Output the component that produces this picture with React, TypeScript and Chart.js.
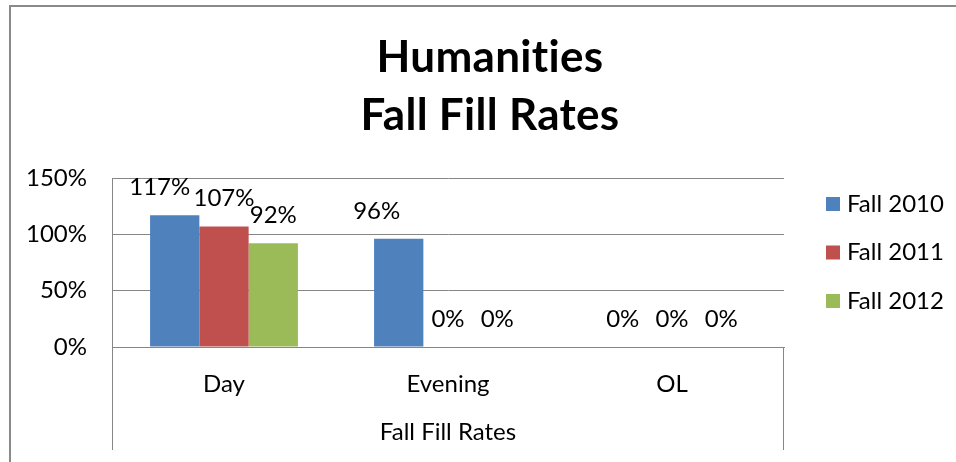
import { useEffect, useRef } from 'react';
import { Chart, registerables } from 'chart.js';

Chart.register(...registerables);

const categories = ['Day', 'Evening', 'OL'];
const seriesNames = ['Fall 2010', 'Fall 2011', 'Fall 2012'];
const fall2010 = [117, 96, 0];
const fall2011 = [107, 0, 0];
const fall2012 = [92, 0, 0];
const yTickValues = [0, 50, 100, 150];
const titleLines = ['Humanities', 'Fall Fill Rates'];
const xAxisTitle = 'Fall Fill Rates';

const COLORS = ['#4F81BD', '#C0504D', '#9BBB59'];
const GRID = '#868686';
const FONT = 'Lato';
const TEXT = '#000000';
const FS = 24;
// horizontal nudges of data labels (label layout style, as in the original)
const LABEL_NUDGE: number[][] = [
  [-15, -22, 0],
  [0, 0, 0],
  [0, 0, 0],
];

const decorPlugin = {
  id: 'decor',
  beforeDraw(chart: any) {
    const ctx = chart.ctx;
    ctx.save();
    ctx.strokeStyle = '#8a8a8a';
    ctx.lineWidth = 2;
    ctx.beginPath();
    ctx.moveTo(10, chart.height);
    ctx.lineTo(10, 6);
    ctx.lineTo(chart.width, 6);
    ctx.stroke();
    ctx.restore();
  },
  afterDraw(chart: any) {
    const { ctx, chartArea } = chart;
    ctx.save();
    // category axis box extensions
    ctx.strokeStyle = GRID;
    ctx.lineWidth = 1;
    ctx.beginPath();
    const l = Math.round(chartArea.left) + 0.5;
    const r = Math.round(chartArea.right) - 0.5;
    ctx.moveTo(l, chartArea.bottom);
    ctx.lineTo(l, chartArea.bottom + 103);
    ctx.moveTo(r, chartArea.bottom);
    ctx.lineTo(r, chartArea.bottom + 103);
    ctx.stroke();

    // title (no ligatures, like the original)
    ctx.fillStyle = TEXT;
    ctx.font = `bold 44px ${FONT}`;
    ctx.textAlign = 'center';
    ctx.textBaseline = 'middle';
    try {
      (ctx as any).textRendering = 'optimizeSpeed';
      (ctx as any).letterSpacing = '0.3px';
    } catch (e) {}
    titleLines.forEach((line, i) => {
      ctx.fillText(line, 490, 58 + i * 58);
    });
    try {
      (ctx as any).letterSpacing = '0px';
    } catch (e) {}

    // legend
    ctx.font = `${FS}px ${FONT}`;
    ctx.textAlign = 'left';
    chart.data.datasets.forEach((ds: any, i: number) => {
      const cy = 204 + i * 48.5;
      ctx.fillStyle = ds.backgroundColor;
      ctx.fillRect(chartArea.right + 42, cy - 7, 14, 14);
      ctx.fillStyle = TEXT;
      ctx.fillText(ds.label, chartArea.right + 63, cy);
    });

    // data labels
    ctx.textAlign = 'center';
    chart.data.datasets.forEach((ds: any, i: number) => {
      const meta = chart.getDatasetMeta(i);
      meta.data.forEach((bar: any, j: number) => {
        const dx = (LABEL_NUDGE[i] && LABEL_NUDGE[i][j]) || 0;
        ctx.fillText(`${ds.data[j]}%`, bar.x + dx, bar.y - 28);
      });
    });
    ctx.restore();
  },
};

export default function App() {
  const ref = useRef<HTMLCanvasElement | null>(null);

  useEffect(() => {
    document.body.style.margin = '0';
    const canvas = ref.current;
    if (!canvas) return;
    const chart = new Chart(canvas, {
      type: 'bar',
      data: {
        labels: categories,
        datasets: [fall2010, fall2011, fall2012].map((d, i) => ({
          label: seriesNames[i],
          data: d,
          backgroundColor: COLORS[i],
          borderWidth: 0,
          categoryPercentage: 0.66,
          barPercentage: 1,
        })),
      },
      options: {
        responsive: false,
        animation: false,
        devicePixelRatio: 1,
        layout: { padding: { top: 178, right: 172, left: 0, bottom: 0 } },
        plugins: {
          legend: { display: false },
          title: { display: false },
          tooltip: { enabled: false },
        },
        scales: {
          x: {
            grid: { display: false },
            border: { display: true, color: GRID, width: 1 },
            ticks: {
              color: TEXT,
              font: { family: FONT, size: FS },
              padding: 15,
              maxRotation: 0,
            },
            title: {
              display: true,
              text: xAxisTitle,
              color: TEXT,
              font: { family: FONT, size: FS },
              padding: { top: 0, bottom: 15 },
            },
            afterFit: (scale: any) => {
              scale.height = 115;
            },
          },
          y: {
            min: 0,
            max: 150,
            afterBuildTicks: (scale: any) => {
              scale.ticks = yTickValues.map((v) => ({ value: v }));
            },
            grid: { color: GRID, lineWidth: 1, drawTicks: false },
            border: { display: true, color: GRID, width: 1 },
            ticks: {
              color: TEXT,
              font: { family: FONT, size: FS },
              padding: 25,
              callback: (v: any) => `${v}%`,
            },
            afterFit: (scale: any) => {
              scale.width = 112;
            },
          },
        },
      },
      plugins: [decorPlugin],
    });
    return () => chart.destroy();
  }, []);

  return (
    <div style={{ width: 956, height: 462 }}>
      <canvas ref={ref} width={956} height={462} style={{ display: 'block' }} />
    </div>
  );
}
